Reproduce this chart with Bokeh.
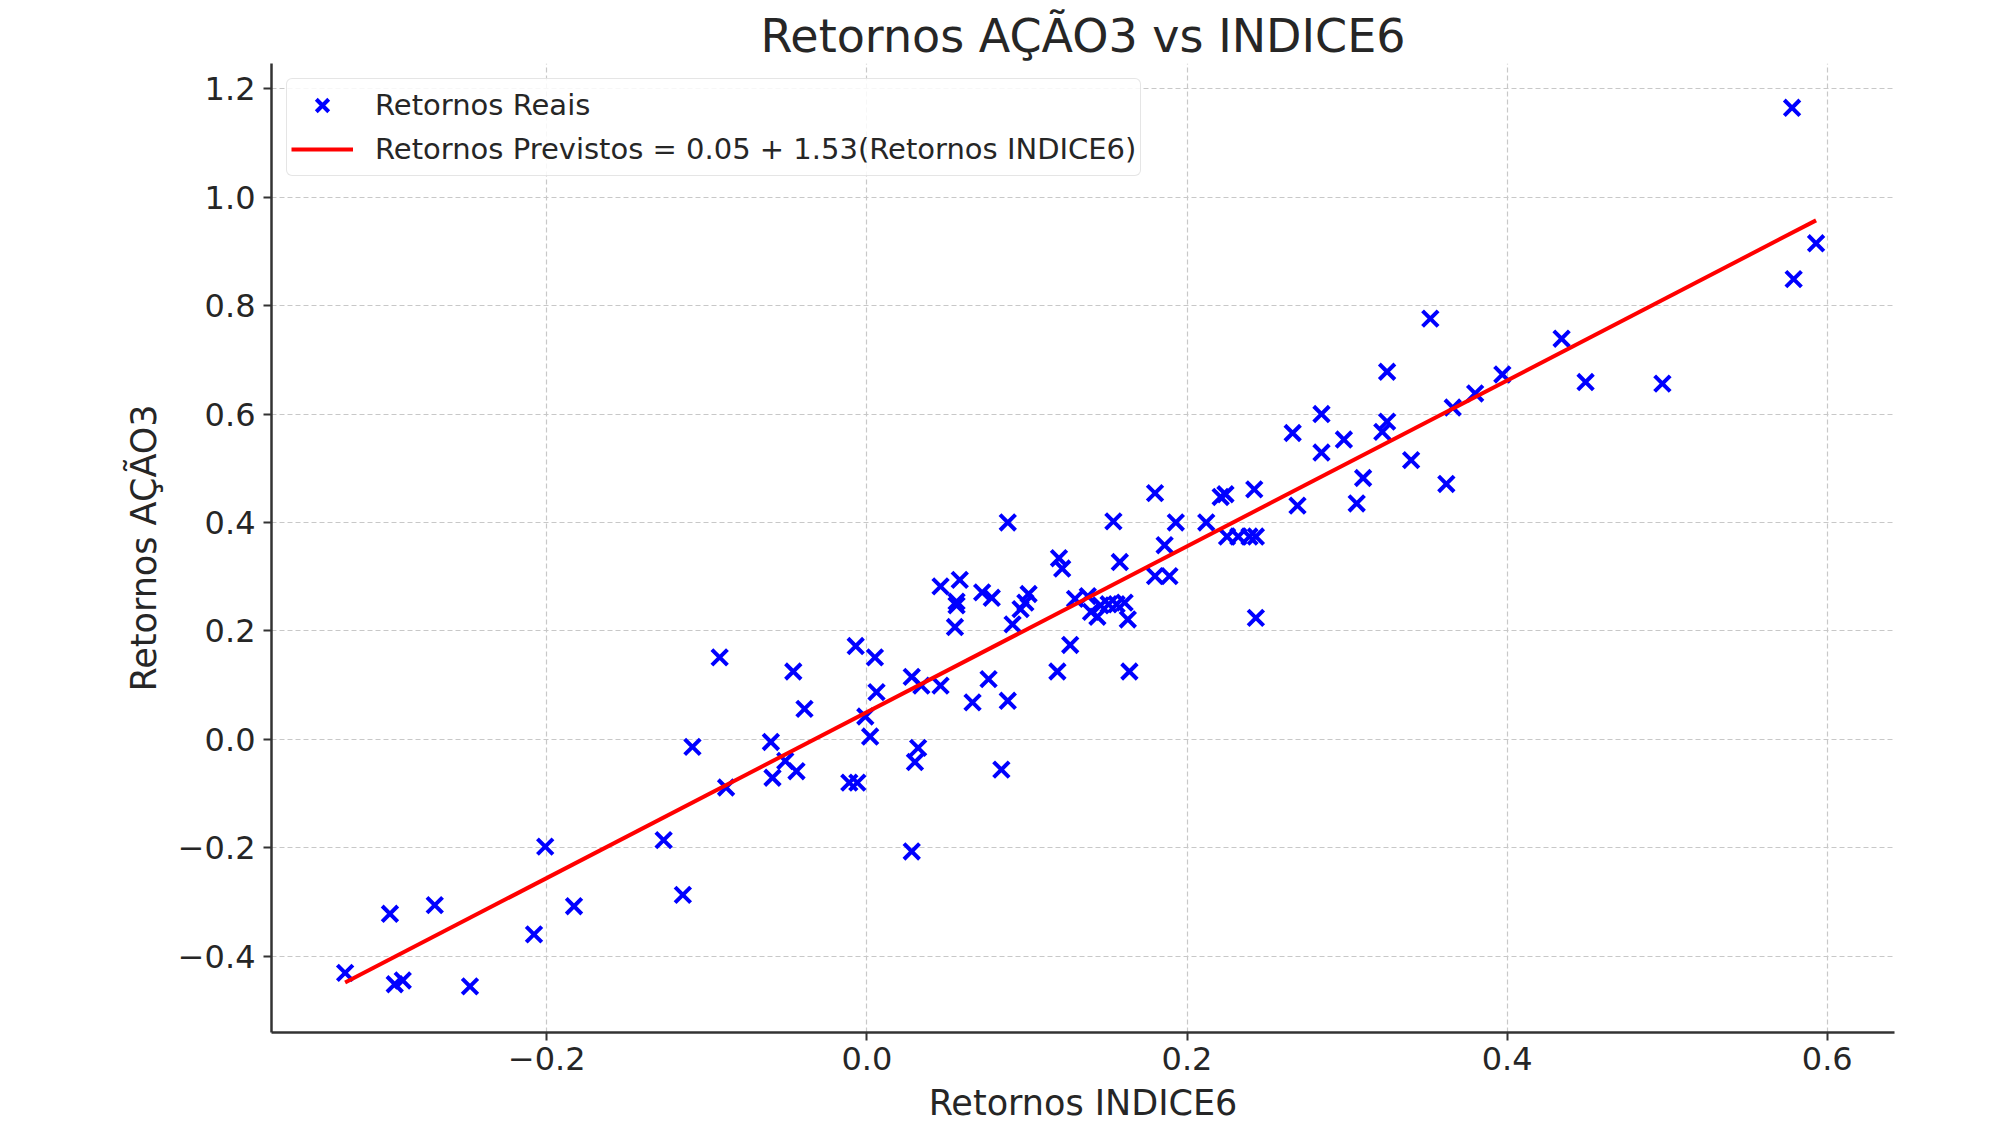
from bokeh.plotting import figure
from bokeh.models import (FixedTicker, CustomJSTickFormatter, Range1d, Legend, LegendItem, Title)
from bokeh.embed import file_html
from bokeh.resources import INLINE

# ---- data ----
retornos_indice6 = [
    -0.326, -0.298, -0.295, -0.290, -0.270, -0.248, -0.208, -0.201, -0.183, -0.127,
    -0.115, -0.109, -0.092, -0.088, -0.060, -0.059, -0.051, -0.046, -0.044, -0.039,
    -0.011, -0.006, -0.007, -0.001, 0.002, 0.005, 0.006, 0.028, 0.028, 0.030,
    0.032, 0.034, 0.046, 0.046, 0.055, 0.056, 0.056, 0.058, 0.066, 0.072,
    0.076, 0.078, 0.084, 0.088, 0.088, 0.091, 0.096, 0.099, 0.101, 0.119,
    0.120, 0.122, 0.127, 0.130, 0.138, 0.140, 0.144, 0.146, 0.151, 0.154,
    0.156, 0.158, 0.161, 0.163, 0.164, 0.180, 0.180, 0.186, 0.189, 0.193,
    0.212, 0.221, 0.224, 0.225, 0.232, 0.239, 0.243, 0.242, 0.243, 0.266,
    0.269, 0.284, 0.284, 0.298, 0.306, 0.310, 0.322, 0.325, 0.325, 0.340,
    0.352, 0.362, 0.366, 0.380, 0.397, 0.434, 0.449, 0.497, 0.578, 0.579,
    0.593,
]
retornos_acao3 = [
    -0.431, -0.322, -0.452, -0.445, -0.306, -0.456, -0.360, -0.198, -0.308, -0.186,
    -0.287, -0.014, 0.151, -0.089, -0.005, -0.071, -0.040, 0.125, -0.059, 0.056,
    -0.080, -0.080, 0.172, 0.042, 0.005, 0.151, 0.087, 0.115, -0.207, -0.042,
    -0.016, 0.099, 0.099, 0.282, 0.207, 0.247, 0.254, 0.294, 0.068, 0.271,
    0.111, 0.261, -0.056, 0.400, 0.071, 0.212, 0.240, 0.252, 0.268, 0.125,
    0.334, 0.315, 0.174, 0.259, 0.264, 0.235, 0.226, 0.247, 0.249, 0.402,
    0.249, 0.327, 0.252, 0.221, 0.125, 0.454, 0.301, 0.358, 0.301, 0.400,
    0.400, 0.447, 0.452, 0.374, 0.374, 0.374, 0.374, 0.461, 0.224, 0.565,
    0.431, 0.600, 0.529, 0.553, 0.435, 0.482, 0.567, 0.678, 0.586, 0.515,
    0.776, 0.471, 0.612, 0.638, 0.673, 0.739, 0.659, 0.656, 1.165, 0.849,
    0.915,
]
intercepto = 0.05
inclinacao = 1.53

x_ticks = [-0.2, 0.0, 0.2, 0.4, 0.6]
y_ticks = [-0.4, -0.2, 0.0, 0.2, 0.4, 0.6, 0.8, 1.0, 1.2]

titulo = "Retornos AÇÃO3 vs INDICE6"
rotulo_x = "Retornos INDICE6"
rotulo_y = "Retornos AÇÃO3"
legenda_reais = "Retornos Reais"
legenda_previstos = "Retornos Previstos = 0.05 + 1.53(Retornos INDICE6)"

# ---- figure ----
FONT = "DejaVu Sans"
TXT = "#262626"

p = figure(
    frame_width=1623, frame_height=969,
    min_border_left=271, min_border_right=90, min_border_top=63, min_border_bottom=96,
    x_range=Range1d(-0.372, 0.642), y_range=Range1d(-0.541, 1.2467),
    output_backend="svg", toolbar_location=None,
)
p.title = Title(text=titulo, align="center", text_font=FONT, text_font_size="46px",
                text_font_style="normal", text_color=TXT, standoff=2)
p.outline_line_color = None
p.background_fill_color = "white"
p.border_fill_color = "white"

for ax in (p.xaxis, p.yaxis):
    ax.axis_line_color = "#333333"
    ax.axis_line_width = 2.5
    ax.major_tick_line_color = "#333333"
    ax.major_tick_line_width = 2
    ax.major_tick_out = 8
    ax.major_tick_in = 0
    ax.minor_tick_line_color = None
    ax.major_label_text_font = FONT
    ax.major_label_text_font_size = "32px"
    ax.major_label_text_color = TXT
    ax.axis_label_text_font = FONT
    ax.axis_label_text_font_size = "35px"
    ax.axis_label_text_font_style = "normal"
    ax.axis_label_text_color = TXT
    ax.formatter = CustomJSTickFormatter(
        code="return (tick < -1e-9 ? '\u2212' : '') + Math.abs(tick).toFixed(1);")

p.xaxis.ticker = FixedTicker(ticks=x_ticks)
p.yaxis.ticker = FixedTicker(ticks=y_ticks)
p.xaxis.axis_label = rotulo_x
p.yaxis.axis_label = rotulo_y
p.xaxis.major_label_standoff = 6
p.xaxis.axis_label_standoff = 10
p.yaxis.major_label_standoff = 8
p.yaxis.axis_label_standoff = 11

for g in (p.xgrid, p.ygrid):
    g.grid_line_color = "#c8c8c8"
    g.grid_line_dash = "5 3"
    g.grid_line_width = 1.2

pts = p.scatter(retornos_indice6, retornos_acao3, marker="x", size=22,
                line_color="#0000ff", line_width=4)

x_min = min(retornos_indice6)
x_max = max(retornos_indice6)
xs_line = [x_min, x_max]
ys_line = [intercepto + inclinacao * v for v in xs_line]
ln = p.line(xs_line, ys_line, line_color="#ff0000", line_width=4)

legend = Legend(items=[LegendItem(label=legenda_reais, renderers=[pts]),
                       LegendItem(label=legenda_previstos, renderers=[ln])],
                location="top_left")
legend.margin = 15
legend.padding = 4
legend.spacing = 0
legend.glyph_width = 62
legend.glyph_height = 44
legend.label_height = 36
legend.label_standoff = 22
legend.label_text_font = FONT
legend.label_text_font_size = "29px"
legend.label_text_color = TXT
legend.border_line_color = "#cccccc"
legend.border_line_width = 1.5
legend.background_fill_color = "white"
legend.background_fill_alpha = 0.85
legend.border_radius = 6
p.add_layout(legend, "center")

open("out.html", "w").write(file_html(p, INLINE))
